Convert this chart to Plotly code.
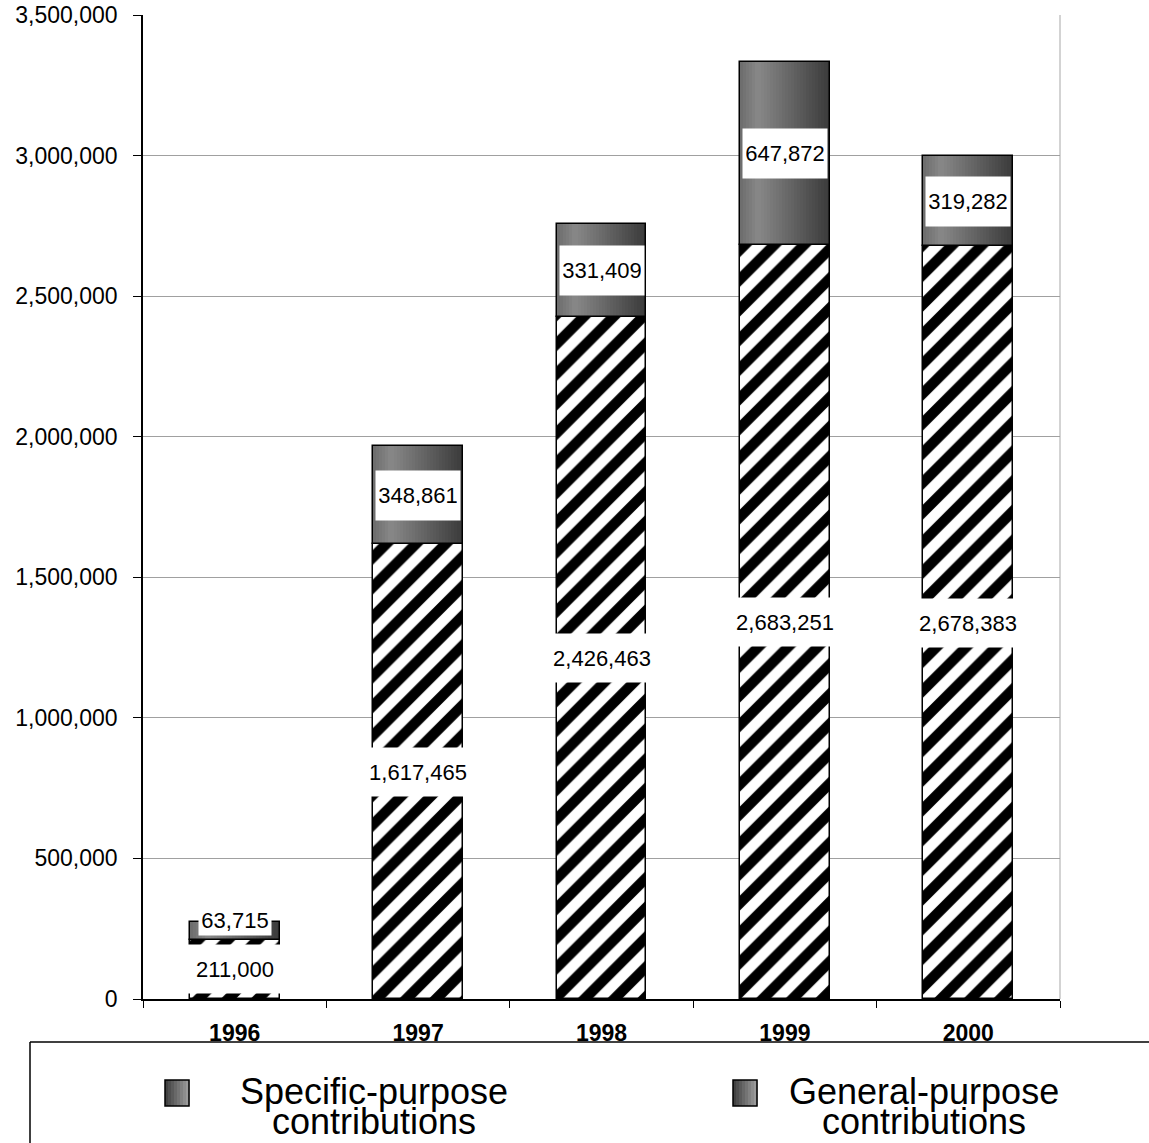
import plotly.graph_objects as go

# ---- data -------------------------------------------------------------
years = ["1996", "1997", "1998", "1999", "2000"]
specific_purpose = [211000, 1617465, 2426463, 2683251, 2678383]
general_purpose = [63715, 348861, 331409, 647872, 319282]
legend_lines = [["Specific-purpose", "contributions"],
                ["General-purpose", "contributions"]]
y_tick_values = [0, 500000, 1000000, 1500000, 2000000, 2500000, 3000000, 3500000]

# ---- geometry ---------------------------------------------------------
W, H = 1149, 1143
L, R, T, B = 143, 89, 15, 144
PW, PH = W - L - R, H - T - B
Y_MAX = 3500000
BAR_W = 0.49
FONT = "Arial, Liberation Sans, sans-serif"


def paper_x(px):
    return (px - L) / PW


def paper_y(py):
    return (H - B - py) / PH


def grey(v):
    v = max(0, min(255, int(round(v))))
    return f"rgb({v},{v},{v})"


def bar_shade(t):
    # left-to-right shading of the upper segment
    if t < 0.2:
        return grey(108 + (136 - 108) * t / 0.2)
    return grey(136 - (136 - 58) * (t - 0.2) / 0.8)


fig = go.Figure()

# lower segment: diagonal hatch
fig.add_bar(
    x=years, y=specific_purpose, width=BAR_W,
    marker=dict(
        color="white",
        pattern=dict(shape="/", fgcolor="black", bgcolor="white",
                     size=21, solidity=0.5, fgopacity=1),
        line=dict(color="black", width=1.5),
    ),
    showlegend=False, hoverinfo="skip",
)

# upper segment: shaded with narrow vertical strips
N_STRIPS = 30
step = BAR_W / N_STRIPS
for i in range(N_STRIPS):
    off = -BAR_W / 2 + i * step
    w = min(step * 1.4, BAR_W / 2 - off)
    fig.add_bar(
        x=years, y=general_purpose, base=specific_purpose,
        width=w, offset=off,
        marker=dict(color=bar_shade((i + 0.5) / N_STRIPS), line=dict(width=0)),
        showlegend=False, hoverinfo="skip",
    )

# outline of the upper segment
fig.add_bar(
    x=years, y=general_purpose, base=specific_purpose, width=BAR_W,
    marker=dict(color="rgba(0,0,0,0)", line=dict(color="black", width=1.5)),
    showlegend=False, hoverinfo="skip",
)

# ---- value labels -------------------------------------------------------
px_per_unit = PH / Y_MAX
annotations = []
for idx, (s, g) in enumerate(zip(specific_purpose, general_purpose)):
    annotations.append(dict(
        x=idx, y=s / 2, xref="x", yref="y", text=f"{s:,}", showarrow=False,
        font=dict(family=FONT, size=22, color="black"),
        bgcolor="white", width=112, height=42, borderpad=3,
        xanchor="center", yanchor="middle",
    ))
    seg_px = g * px_per_unit
    shift = max(0.0, (40 - seg_px) / 2)
    annotations.append(dict(
        x=idx, y=s + g / 2, xref="x", yref="y", text=f"{g:,}", showarrow=False,
        font=dict(family=FONT, size=22, color="black"),
        bgcolor="white", width=78 if shift == 0 else 72,
        height=43 if shift == 0 else 30, borderpad=3 if shift == 0 else 0,
        xanchor="center", yanchor="middle", yshift=shift,
    ))

# ---- legend panel -----------------------------------------------------
shapes = [
    # right border of the plotting area
    dict(type="line", xref="paper", yref="paper", x0=1, x1=1, y0=0, y1=1,
         line=dict(color="#c4c4c4", width=1.5), layer="below"),
    # legend frame (left and top edges)
    dict(type="line", xref="paper", yref="paper",
         x0=paper_x(30), x1=paper_x(W + 5), y0=paper_y(1042), y1=paper_y(1042),
         line=dict(color="black", width=1.5)),
    dict(type="line", xref="paper", yref="paper",
         x0=paper_x(30), x1=paper_x(30), y0=paper_y(1042), y1=paper_y(H + 5),
         line=dict(color="black", width=1.5)),
]

legend_items = [(165, 374), (733, 924)]
for (sx, tx), lines in zip(legend_items, legend_lines):
    sw, sh, sy = 24, 26, 1080
    n = 8
    for k in range(n):
        shapes.append(dict(
            type="rect", xref="paper", yref="paper",
            x0=paper_x(sx + k * sw / n), x1=paper_x(sx + (k + 1) * sw / n + 0.5),
            y0=paper_y(sy + sh), y1=paper_y(sy),
            line=dict(width=0), fillcolor=grey(60 + (160 - 60) * (k + 0.5) / n),
        ))
    shapes.append(dict(
        type="rect", xref="paper", yref="paper",
        x0=paper_x(sx), x1=paper_x(sx + sw), y0=paper_y(sy + sh), y1=paper_y(sy),
        line=dict(color="black", width=1.5), fillcolor="rgba(0,0,0,0)",
    ))
    for j, line_text in enumerate(lines):
        annotations.append(dict(
            x=paper_x(tx), y=paper_y(1091 + j * 30), xref="paper", yref="paper",
            text=line_text, showarrow=False,
            font=dict(family=FONT, size=36, color="black"),
            xanchor="center", yanchor="middle",
        ))

fig.update_layout(
    width=W, height=H,
    margin=dict(l=L, r=R, t=T, b=B, pad=0, autoexpand=False),
    paper_bgcolor="white", plot_bgcolor="white",
    barmode="overlay", bargap=0,
    showlegend=False,
    font=dict(family=FONT, color="black"),
    annotations=annotations, shapes=shapes,
    xaxis=dict(
        type="category", range=[-0.5, 4.5], automargin=False,
        showline=True, linecolor="black", linewidth=1.5,
        ticks="outside", tickson="boundaries", ticklen=7, tickcolor="black",
        ticklabelstandoff=13,
        tickfont=dict(family=FONT, size=23, color="black", weight=700),
        showgrid=False, zeroline=False,
    ),
    yaxis=dict(
        range=[0, Y_MAX], tickvals=y_tick_values, tickformat=",",
        automargin=False,
        showline=True, linecolor="black", linewidth=1.5,
        ticks="outside", ticklen=8, tickcolor="black",
        ticklabelstandoff=11,
        tickfont=dict(family=FONT, size=23, color="black"),
        showgrid=True, gridcolor="#a0a0a0", gridwidth=1, zeroline=False,
    ),
)

fig.write_html("out.html")
